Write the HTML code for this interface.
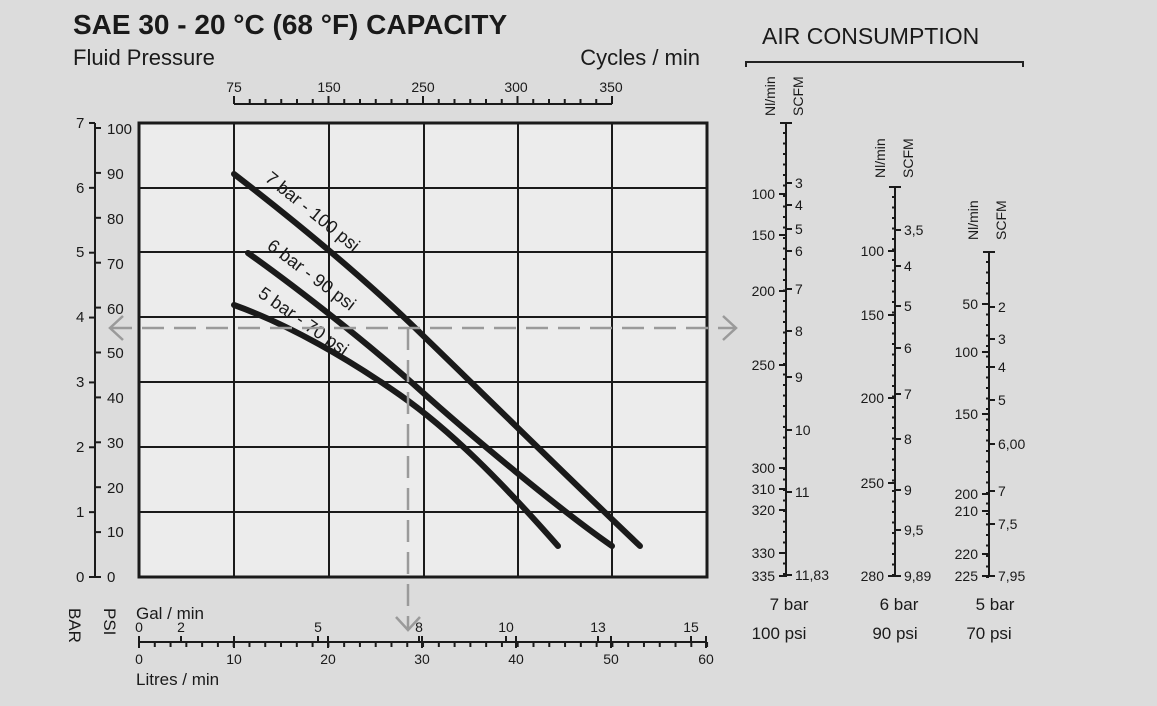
<!DOCTYPE html>
<html><head><meta charset="utf-8"><style>
body{margin:0;background:#dcdcdc;}
svg{display:block;font-family:"Liberation Sans",sans-serif;}
</style></head><body>
<svg width="1157" height="706" viewBox="0 0 1157 706" xmlns="http://www.w3.org/2000/svg">
<rect width="1157" height="706" fill="#dcdcdc"/>
<text x="73" y="34" font-size="28" font-weight="bold" fill="#1a1a1a">SAE 30 - 20 °C (68 °F) CAPACITY</text>
<text x="73" y="65" font-size="22" fill="#1a1a1a">Fluid Pressure</text>
<text x="700" y="65" font-size="22" fill="#1a1a1a" text-anchor="end">Cycles / min</text>
<text x="762" y="44" font-size="23" fill="#1a1a1a">AIR CONSUMPTION</text>
<path d="M746 67V62H1023V67" fill="none" stroke="#222" stroke-width="2"/>

<rect x="139" y="123" width="568" height="454" fill="#ececec"/>
<g stroke="#1a1a1a" stroke-width="2">
<line x1="234" y1="123" x2="234" y2="577"/><line x1="329" y1="123" x2="329" y2="577"/>
<line x1="424" y1="123" x2="424" y2="577"/><line x1="518" y1="123" x2="518" y2="577"/>
<line x1="612" y1="123" x2="612" y2="577"/>
<line x1="139" y1="188" x2="707" y2="188"/><line x1="139" y1="252" x2="707" y2="252"/>
<line x1="139" y1="317" x2="707" y2="317"/><line x1="139" y1="382" x2="707" y2="382"/>
<line x1="139" y1="447" x2="707" y2="447"/><line x1="139" y1="512" x2="707" y2="512"/>
</g>
<rect x="139" y="123" width="568" height="454" fill="none" stroke="#1a1a1a" stroke-width="3"/>

<g fill="none" stroke="#1a1a1a" stroke-width="6" stroke-linecap="round">
<path d="M234 174 C300 225 360 275 410 323 S560 470 640 546"/>
<path d="M248 253 C300 290 370 345 420 390 S560 510 612 546"/>
<path d="M234 305 C290 325 350 360 400 395 S500 480 558 546"/>
</g>
<g font-size="18" fill="#1a1a1a">
<text transform="translate(264,180) rotate(39)">7 bar - 100 psi</text>
<text transform="translate(266,248) rotate(37)">6 bar - 90 psi</text>
<text transform="translate(257,296) rotate(35)">5 bar - 70 psi</text>
</g>

<g stroke="#9a9a9a" stroke-width="2.5" fill="none">
<line x1="110" y1="328" x2="735" y2="328" stroke-dasharray="22,10"/>
<line x1="408" y1="328" x2="408" y2="630" stroke-dasharray="22,10"/>
<path d="M123 316 L110 328 L123 340"/>
<path d="M723 316 L736 328 L723 340"/>
<path d="M396 617 L408 630 L420 617"/>
</g>

<line x1="95" y1="123" x2="95" y2="577" stroke="#1a1a1a" stroke-width="2"/>
<g stroke="#1a1a1a" stroke-width="2" id="lt"></g>
<g font-size="15" fill="#1a1a1a">
<text x="76" y="128">7</text><text x="76" y="193">6</text><text x="76" y="257">5</text><text x="76" y="322">4</text>
<text x="76" y="387">3</text><text x="76" y="452">2</text><text x="76" y="517">1</text><text x="76" y="582">0</text>
</g>
<g font-size="15" fill="#1a1a1a">
<text x="107" y="134">100</text><text x="107" y="179">90</text><text x="107" y="224">80</text><text x="107" y="269">70</text>
<text x="107" y="314">60</text><text x="107" y="358">50</text><text x="107" y="403">40</text><text x="107" y="448">30</text>
<text x="107" y="493">20</text><text x="107" y="537">10</text><text x="107" y="582">0</text>
</g>
<text transform="translate(69,608) rotate(90)" font-size="17" fill="#1a1a1a">BAR</text>
<text transform="translate(104,608) rotate(90)" font-size="17" fill="#1a1a1a">PSI</text>

<line x1="234" y1="104" x2="612" y2="104" stroke="#1a1a1a" stroke-width="2"/>
<g font-size="14" fill="#1a1a1a" text-anchor="middle">
<text x="234" y="92">75</text><text x="329" y="92">150</text><text x="423" y="92">250</text><text x="516" y="92">300</text><text x="611" y="92">350</text>
</g>

<line x1="139" y1="642" x2="707" y2="642" stroke="#1a1a1a" stroke-width="2"/>
<text x="136" y="619" font-size="17" fill="#1a1a1a">Gal / min</text>
<text x="136" y="685" font-size="17" fill="#1a1a1a">Litres / min</text>
<g font-size="14" fill="#1a1a1a" text-anchor="middle">
<text x="139" y="632">0</text><text x="181" y="632">2</text><text x="318" y="632">5</text><text x="419" y="632">8</text>
<text x="506" y="632">10</text><text x="598" y="632">13</text><text x="691" y="632">15</text>
<text x="139" y="664">0</text><text x="234" y="664">10</text><text x="328" y="664">20</text><text x="422" y="664">30</text>
<text x="516" y="664">40</text><text x="611" y="664">50</text><text x="706" y="664">60</text>
</g>

<g stroke="#1a1a1a" stroke-width="2">
<line x1="786" y1="123" x2="786" y2="577"/><line x1="780" y1="123" x2="792" y2="123"/>
<line x1="895" y1="187" x2="895" y2="577"/><line x1="889" y1="187" x2="901" y2="187"/>
<line x1="989" y1="252" x2="989" y2="577"/><line x1="983" y1="252" x2="995" y2="252"/>
</g>
<g id="airticks" stroke="#1a1a1a" stroke-width="2"></g>
<g font-size="14" fill="#1a1a1a">
<text transform="translate(775,116) rotate(-90)">Nl/min</text><text transform="translate(803,116) rotate(-90)">SCFM</text>
<text transform="translate(885,178) rotate(-90)">Nl/min</text><text transform="translate(913,178) rotate(-90)">SCFM</text>
<text transform="translate(978,240) rotate(-90)">Nl/min</text><text transform="translate(1006,240) rotate(-90)">SCFM</text>
</g>
<g font-size="14" fill="#1a1a1a" text-anchor="end" id="ll"></g>
<g font-size="14" fill="#1a1a1a" id="rl"></g>
<g font-size="17" fill="#1a1a1a" text-anchor="middle">
<text x="789" y="610">7 bar</text><text x="779" y="639">100 psi</text>
<text x="899" y="610">6 bar</text><text x="895" y="639">90 psi</text>
<text x="995" y="610">5 bar</text><text x="989" y="639">70 psi</text>
</g>
<g id="tt" stroke="#1a1a1a" stroke-width="2"></g>
</svg>
<script>
var NS="http://www.w3.org/2000/svg";
function L(g,x1,y1,x2,y2){var l=document.createElementNS(NS,"line");l.setAttribute("x1",x1);l.setAttribute("y1",y1);l.setAttribute("x2",x2);l.setAttribute("y2",y2);document.getElementById(g).appendChild(l);}
function T(g,x,y,s){var t=document.createElementNS(NS,"text");t.setAttribute("x",x);t.setAttribute("y",y);t.textContent=s;document.getElementById(g).appendChild(t);}
for(var i=0;i<=7;i++){var y=577-i*64.86;L("lt",89,y,95,y);}
for(var i=0;i<=10;i++){var y=577-i*44.9;L("lt",95,y,101,y);}
for(var x=234;x<=613;x+=15.75){var big=[234,329,423,517,611].some(function(v){return Math.abs(v-x)<4});L("tt",x,104,x,big?96:99);}
for(var x=139;x<=708;x+=15.78){L("tt",x,642,x,647);}
[139,234,328,422,516,611,706].forEach(function(x){L("tt",x,636,x,648);});
[181,318,419,506,598,691].forEach(function(x){L("tt",x,636,x,642);});
function sc(x,y0,y1){for(var y=y0;y<=y1;y+=10.5)L("airticks",x-3,y,x,y);}
sc(786,133,577);sc(895,197,577);sc(989,262,577);
var A=[[786,[[100,194],[150,235],[200,291],[250,365],[300,468],[310,489],[320,510],[330,553],[335,576]],[["3",183],["4",205],["5",229],["6",251],["7",289],["8",331],["9",377],["10",430],["11",492],["11,83",575]]],
[895,[[100,251],[150,315],[200,398],[250,483],[280,576]],[["3,5",230],["4",266],["5",306],["6",348],["7",394],["8",439],["9",490],["9,5",530],["9,89",576]]],
[989,[[50,304],[100,352],[150,414],[200,494],[210,511],[220,554],[225,576]],[["2",307],["3",339],["4",367],["5",400],["6,00",444],["7",491],["7,5",524],["7,95",576]]]];
A.forEach(function(a){var x=a[0];a[1].forEach(function(p){L("airticks",x-7,p[1],x,p[1]);T("ll",x-11,p[1]+5,p[0]);});
a[2].forEach(function(p){L("airticks",x,p[1],x+6,p[1]);T("rl",x+9,p[1]+5,p[0]);});});
</script>
</body></html>
